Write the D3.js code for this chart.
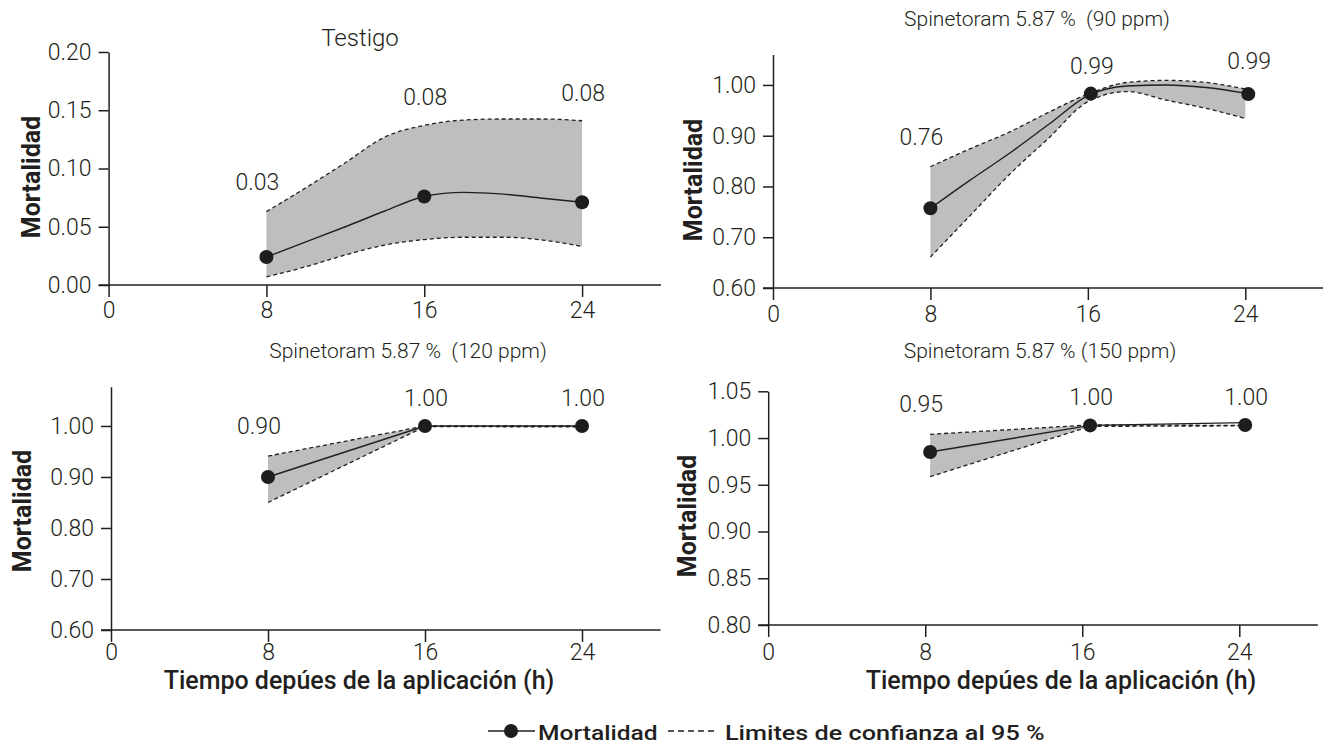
<!DOCTYPE html>
<html>
<head>
<meta charset="utf-8">
<script src="https://cdn.jsdelivr.net/npm/d3@7"></script>
<style>
  body { margin: 0; background: #fff; }
  text { font-family: Roboto, "Noto Sans", sans-serif; fill: #231f20; white-space: pre; }
</style>
</head>
<body>
<svg id="chart" width="1323" height="750"></svg>
<script>
// shared x ticks (hours)
const tickHours = [0, 8, 16, 24];

// Testigo
const testigoHours = [8, 16, 24];
const testigoMort = [0.024, 0.076, 0.071];
const testigoLabels = ["0.03", "0.08", "0.08"];
const testigoCurveHours = [8, 10, 12, 14, 16, 18, 20, 22, 24];
const testigoFit = [0.024, 0.037, 0.050, 0.0635, 0.076, 0.0795, 0.078, 0.0745, 0.071];
const testigoUpper = [0.063, 0.0835, 0.105, 0.127, 0.137, 0.1416, 0.1425, 0.1425, 0.141];
const testigoLower = [0.007, 0.0157, 0.0258, 0.0343, 0.039, 0.041, 0.041, 0.0386, 0.033];
const testigoTicks = [0, 0.05, 0.10, 0.15, 0.20];

// Spinetoram 90 ppm
const s90Hours = [8, 16.15, 24.15];
const s90Mort = [0.757, 0.983, 0.982];
const s90Labels = ["0.76", "0.99", "0.99"];
const s90CurveHours = [8, 10, 12, 14, 16, 18, 20, 22, 24];
const s90Fit = [0.757, 0.812, 0.865, 0.922, 0.979, 0.998, 1.0, 0.995, 0.984];
const s90Upper = [0.839, 0.874, 0.907, 0.946, 0.982, 1.005, 1.009, 1.005, 0.992];
const s90Lower = [0.661, 0.742, 0.823, 0.895, 0.967, 0.987, 0.970, 0.954, 0.934];
const s90Ticks = [0.60, 0.70, 0.80, 0.90, 1.00];

// Spinetoram 120 ppm
const s120Hours = [8, 16, 24];
const s120Mort = [0.90, 1.00, 1.00];
const s120Labels = ["0.90", "1.00", "1.00"];
const s120CurveHours = [8, 16, 24];
const s120Fit = [0.90, 1.00, 1.00];
const s120Upper = [0.941, 1.00, 1.00];
const s120Lower = [0.85, 0.999, 0.998];
const s120Ticks = [0.60, 0.70, 0.80, 0.90, 1.00];

// Spinetoram 150 ppm
const s150Hours = [8.25, 16.4, 24.3];
const s150Mort = [0.985, 1.0135, 1.014];
const s150Labels = ["0.95", "1.00", "1.00"];
const s150CurveHours = [8.25, 16.4, 24.3];
const s150Fit = [0.985, 1.0135, 1.0165];
const s150Upper = [1.004, 1.014, 1.0135];
const s150Lower = [0.9587, 1.0125, 1.013];
const s150Ticks = [0.80, 0.85, 0.90, 0.95, 1.00, 1.05];

const svg = d3.select("#chart");

// stretch text a little, the legend face of the original is wider
function fitText(sel, k) {
  sel.each(function() {
    const w = this.getComputedTextLength();
    d3.select(this).attr("textLength", w * k).attr("lengthAdjust", "spacingAndGlyphs");
  });
}

const panels = [
  { title: "Testigo", titleSize: 24, titleX: 360, titleY: 46,
    hours: testigoHours, mort: testigoMort, labels: testigoLabels,
    curveHours: testigoCurveHours, fit: testigoFit, upper: testigoUpper, lower: testigoLower,
    ticks: testigoTicks, yDomain: [0, 0.2], xRange: [108.6, 661], yRange: [285, 52],
    yLabel: [30.5, 177], xTitle: null, pad: 5, curve: d3.curveMonotoneX },
  { title: "Spinetoram 5.87 %  (90 ppm)", titleSize: 21, titleX: 1037, titleY: 26,
    hours: s90Hours, mort: s90Mort, labels: s90Labels,
    curveHours: s90CurveHours, fit: s90Fit, upper: s90Upper, lower: s90Lower,
    ticks: s90Ticks, yDomain: [0.6, 1.06], xRange: [773, 1324], yRange: [288, 54.5],
    yLabel: [692.5, 180], xTitle: null, pad: 6, curve: d3.curveMonotoneX },
  { title: "Spinetoram 5.87 %  (120 ppm)", titleSize: 21, titleX: 408, titleY: 358,
    hours: s120Hours, mort: s120Mort, labels: s120Labels,
    curveHours: s120CurveHours, fit: s120Fit, upper: s120Upper, lower: s120Lower,
    ticks: s120Ticks, yDomain: [0.6, 1.077], xRange: [111, 660.5], yRange: [630, 386.7],
    yLabel: [22, 511], xTitle: [359, 689], pad: 2, curve: d3.curveLinear },
  { title: "Spinetoram 5.87 % (150 ppm)", titleSize: 21, titleX: 1040, titleY: 358,
    hours: s150Hours, mort: s150Mort, labels: s150Labels,
    curveHours: s150CurveHours, fit: s150Fit, upper: s150Upper, lower: s150Lower,
    ticks: s150Ticks, yDomain: [0.8, 1.05], xRange: [768.2, 1317.8], yRange: [625, 391.3],
    yLabel: [686.5, 516], xTitle: [1061, 689], pad: 7, curve: d3.curveLinear }
];

panels.forEach(p => {
  const x = d3.scaleLinear().domain([0, 28]).range(p.xRange);
  const y = d3.scaleLinear().domain(p.yDomain).range(p.yRange);
  const g = svg.append("g");

  const band = p.curveHours.map((h, i) => ({ h, lo: p.lower[i], hi: p.upper[i], fit: p.fit[i] }));

  // confidence band
  g.append("path")
    .datum(band)
    .attr("fill", "#bcbec0")
    .attr("d", d3.area().curve(p.curve).x(d => x(d.h)).y0(d => y(d.lo)).y1(d => y(d.hi)));

  ["hi", "lo"].forEach(k => {
    g.append("path")
      .datum(band)
      .attr("fill", "none")
      .attr("stroke", "#231f20")
      .attr("stroke-width", 1.3)
      .attr("stroke-dasharray", "4,3")
      .attr("d", d3.line().curve(p.curve).x(d => x(d.h)).y(d => y(d[k])));
  });

  // fitted mortality line
  g.append("path")
    .datum(band)
    .attr("fill", "none")
    .attr("stroke", "#231f20")
    .attr("stroke-width", 1.4)
    .attr("d", d3.line().curve(p.curve).x(d => x(d.h)).y(d => y(d.fit)));

  // axes
  const yAxis = g.append("g")
    .attr("transform", `translate(${p.xRange[0]},0)`)
    .call(d3.axisLeft(y).tickValues(p.ticks).tickFormat(d3.format(".2f")).tickSize(10).tickPadding(7).tickSizeOuter(0));
  const xAxis = g.append("g")
    .attr("transform", `translate(0,${p.yRange[0]})`)
    .call(d3.axisBottom(x).tickValues(tickHours).tickSize(12).tickPadding(p.pad).tickSizeOuter(0));
  xAxis.select(".domain").remove();
  xAxis.append("line")
    .attr("x1", x.range()[0] - 10).attr("x2", x.range()[1])
    .attr("stroke", "#231f20").attr("stroke-width", 1.5);

  [yAxis, xAxis].forEach(a => {
    a.selectAll(".domain, .tick line").attr("stroke", "#231f20").attr("stroke-width", 1.5);
    a.selectAll(".tick text")
      .attr("font-size", 23)
      .attr("font-weight", 300)
      .attr("font-family", "Roboto")
      .attr("fill", "#231f20");
  });

  // points
  g.selectAll("circle")
    .data(p.hours.map((h, i) => ({ h, v: p.mort[i] })))
    .join("circle")
    .attr("cx", d => x(d.h))
    .attr("cy", d => y(d.v))
    .attr("r", 7)
    .attr("fill", "#1d1d1b");

  // value labels, just above the upper limit
  g.selectAll("text.val")
    .data(p.hours.map((h, i) => {
      const j = d3.leastIndex(p.curveHours, c => Math.abs(c - h));
      return { h, i, top: Math.min(y(p.upper[j]), y(p.mort[i])), label: p.labels[i] };
    }))
    .join("text")
    .attr("class", "val")
    .attr("x", d => x(d.h) + (d.i === 0 ? -9 : 1))
    .attr("y", d => d.top - (d.i === 0 ? 22 : 20))
    .attr("text-anchor", "middle")
    .attr("font-size", 23)
    .attr("font-weight", 300)
    .text(d => d.label);

  // panel title
  g.append("text")
    .attr("x", p.titleX)
    .attr("y", p.titleY)
    .attr("text-anchor", "middle")
    .attr("font-size", p.titleSize)
    .attr("font-weight", 300)
    .text(p.title);

  // y title
  g.append("text")
    .attr("transform", `translate(${p.yLabel[0] + 9},${p.yLabel[1]}) rotate(-90)`)
    .attr("text-anchor", "middle")
    .attr("font-size", 25)
    .attr("font-weight", 700)
    .text("Mortalidad");

  if (p.xTitle) {
    g.append("text")
      .attr("x", p.xTitle[0])
      .attr("y", p.xTitle[1])
      .attr("text-anchor", "middle")
      .attr("font-size", 25)
      .attr("font-weight", 500)
      .text("Tiempo depúes de la aplicación (h)");
  }
});

// legend
const leg = svg.append("g").attr("transform", "translate(488,731)");
leg.append("line").attr("x1", 0).attr("x2", 47).attr("stroke", "#231f20").attr("stroke-width", 1.5);
leg.append("circle").attr("cx", 23).attr("r", 7).attr("fill", "#1d1d1b");
leg.append("text").attr("x", 50).attr("y", 9).attr("font-size", 21).attr("font-weight", 500)
  .text("Mortalidad").call(fitText, 1.17);
leg.append("line").attr("x1", 180).attr("x2", 228).attr("stroke", "#231f20")
  .attr("stroke-width", 1.3).attr("stroke-dasharray", "6,4");
leg.append("text").attr("x", 237).attr("y", 9).attr("font-size", 21).attr("font-weight", 500)
  .text("Limites de confianza al 95 %").call(fitText, 1.2);
</script>
</body>
</html>
